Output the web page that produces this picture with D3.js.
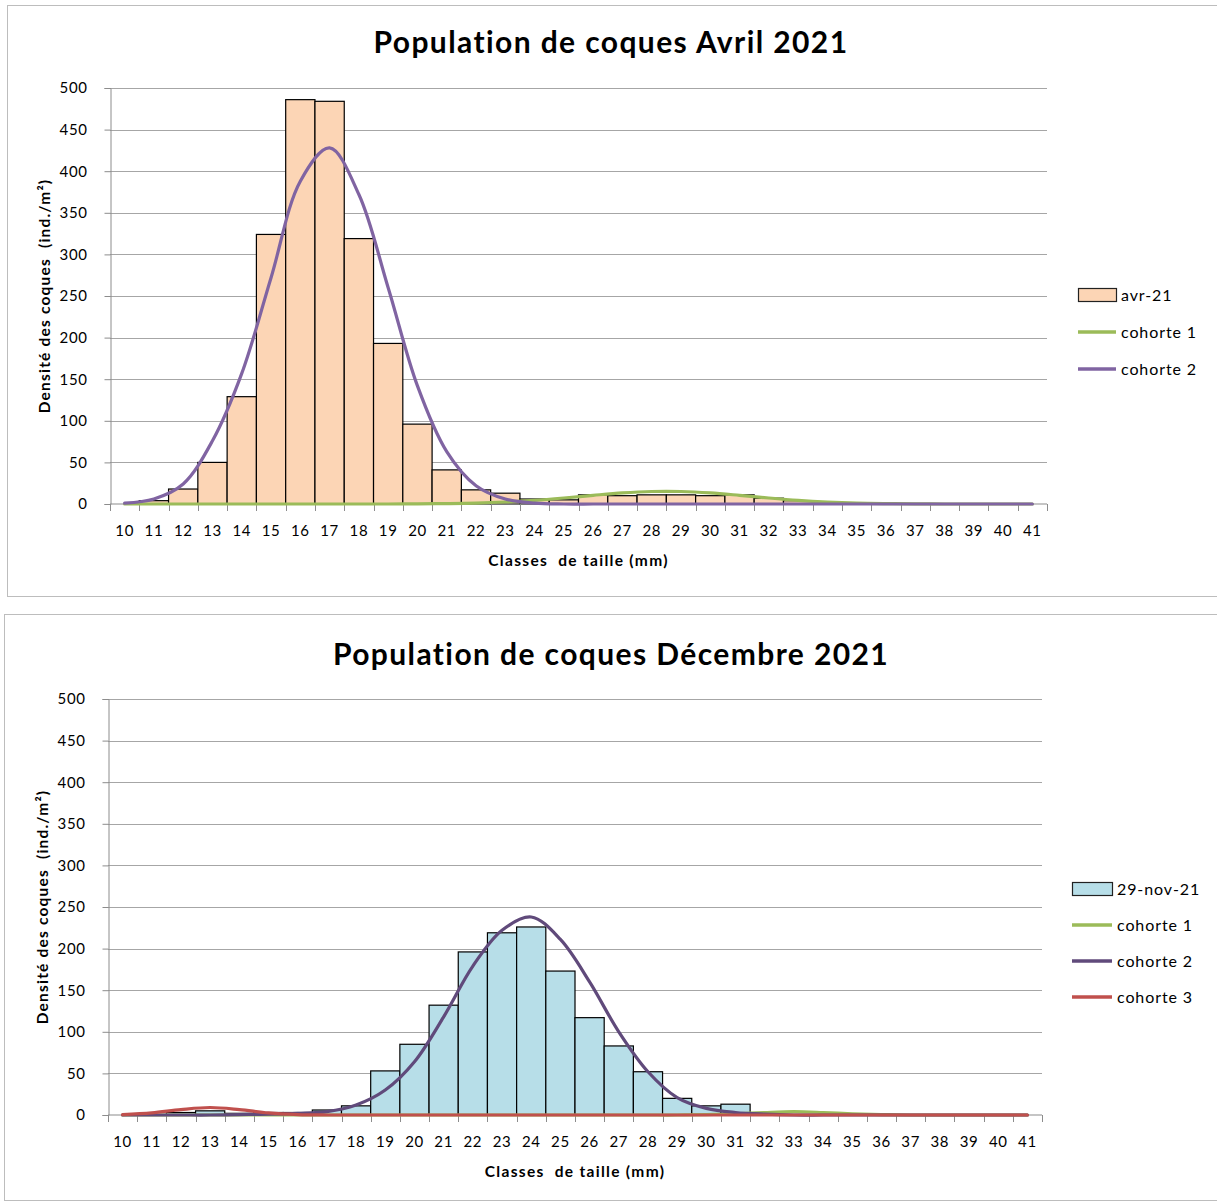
<!DOCTYPE html>
<html>
<head>
<meta charset="utf-8">
<script src="https://cdn.jsdelivr.net/npm/d3@7"></script>
<style>
  body { margin: 0; background: #fff; }
  text { font-family: Lato, "Open Sans", sans-serif; }
</style>
</head>
<body>
<div id="root"></div>
<script>
const WIDTH = 1217;
const HEIGHT = 1202;

// size classes (mm)
const classes = ["10","11","12","13","14","15","16","17","18","19","20","21","22","23","24","25",
                 "26","27","28","29","30","31","32","33","34","35","36","37","38","39","40","41"];
const yTicks = [0, 50, 100, 150, 200, 250, 300, 350, 400, 450, 500];

// April 2021
const avrBars = [0, 4, 18, 50, 129, 324, 486, 484, 319, 193, 96, 41, 17, 13, 6, 5,
                 11, 10, 11, 11, 10, 11, 7, 4, 2, 1, 0, 0, 0, 0, 0, 0];
const avrCoh1 = [0, 0, 0, 0, 0, 0, 0, 0, 0, 0, 0.2, 0.5, 1.1, 2.4, 4.4, 7.2,
                 10.4, 13.3, 15, 15, 13.3, 10.4, 7.2, 4.4, 2.4, 1.1, 0.5, 0.2, 0, 0, 0, 0];
const avrCoh2 = [1, 6, 24, 76, 157, 272, 388, 428, 372, 260, 142, 63, 22, 6, 1, 0,
                 0, 0, 0, 0, 0, 0, 0, 0, 0, 0, 0, 0, 0, 0, 0, 0];

// November / December 2021
const novBars = [0, 0, 3, 5, 2, 3, 3, 6, 11, 53, 85, 132, 196, 219, 226, 173,
                 117, 83, 52, 20, 11, 13, 0, 0, 0, 0, 0, 0, 0, 0, 0, 0];
const novCoh1 = [0, 0, 0, 0, 0, 0, 0, 0, 0, 0, 0, 0, 0, 0, 0, 0,
                 0, 0, 0, 0, 0.5, 1.5, 3, 4, 3, 1.5, 0.5, 0, 0, 0, 0, 0];
const novCoh2 = [0, 0, 0, 0, 0.5, 1, 2, 4, 12, 30, 64, 118, 179, 222, 238, 211,
                 160, 100, 52, 21, 8, 3, 1, 0, 0, 0, 0, 0, 0, 0, 0, 0];
const novCoh3 = [0.5, 2.5, 6.5, 9, 6.5, 2.5, 0.5, 0, 0, 0, 0, 0, 0, 0, 0, 0,
                 0, 0, 0, 0, 0, 0, 0, 0, 0, 0, 0, 0, 0, 0, 0, 0];

const svg = d3.select("#root")
    .append("svg")
    .attr("width", WIDTH)
    .attr("height", HEIGHT);

function drawChart(cfg) {
    const g = svg.append("g");

    // chart frame
    g.append("rect")
        .attr("x", cfg.frame[0] + 0.5)
        .attr("y", cfg.frame[1] + 0.5)
        .attr("width", cfg.frame[2])
        .attr("height", cfg.frame[3])
        .attr("fill", "#fff")
        .attr("stroke", "#bdbdbd");

    const x = d3.scaleBand()
        .domain(classes)
        .range([cfg.left, cfg.right])
        .paddingInner(0)
        .paddingOuter(0);

    const y = d3.scaleLinear()
        .domain([0, 500])
        .range([cfg.bottom, cfg.top]);

    // gridlines
    g.append("g")
        .selectAll("line")
        .data(yTicks.filter(d => d > 0))
        .join("line")
        .attr("x1", cfg.left)
        .attr("x2", cfg.right)
        .attr("y1", d => Math.round(y(d)) + 0.5)
        .attr("y2", d => Math.round(y(d)) + 0.5)
        .attr("stroke", "#a6a6a6")
        .attr("stroke-width", 1.2);

    // y axis
    const yAxis = d3.axisLeft(y)
        .tickValues(yTicks)
        .tickSize(6)
        .tickPadding(17);
    const ya = g.append("g")
        .attr("transform", `translate(${cfg.left + 0.5}, 0)`)
        .call(yAxis);
    ya.select(".domain").attr("stroke", "#8c8c8c");
    ya.selectAll(".tick line").attr("stroke", "#8c8c8c");
    ya.selectAll(".tick text")
        .attr("font-size", 15)
        .attr("fill", "#000")
        .attr("letter-spacing", 0.6)
        .style("font-family", "Lato, sans-serif");

    // bars
    g.append("g")
        .selectAll("rect")
        .data(cfg.bars)
        .join("rect")
        .attr("x", (d, i) => x(classes[i]))
        .attr("y", d => y(d))
        .attr("width", x.bandwidth())
        .attr("height", d => y(0) - y(d))
        .attr("fill", cfg.barFill)
        .attr("stroke", d => d > 0 ? "#000" : "none")
        .attr("stroke-width", 1.2);

    // x axis with ticks between categories
    const xa = g.append("g")
        .attr("transform", `translate(0, ${cfg.bottom})`);
    xa.append("line")
        .attr("x1", cfg.left)
        .attr("x2", cfg.right)
        .attr("stroke", "#8c8c8c")
        .attr("stroke-width", 1.2);
    xa.selectAll(".xtick")
        .data(classes.concat(["end"]))
        .join("line")
        .attr("class", "xtick")
        .attr("x1", (d, i) => Math.round(cfg.left + i * x.bandwidth()) + 0.5)
        .attr("x2", (d, i) => Math.round(cfg.left + i * x.bandwidth()) + 0.5)
        .attr("y1", 0)
        .attr("y2", 7)
        .attr("stroke", "#8c8c8c");
    xa.selectAll(".xlabel")
        .data(classes)
        .join("text")
        .attr("class", "xlabel")
        .attr("x", d => x(d) + x.bandwidth() / 2)
        .attr("y", 32)
        .attr("text-anchor", "middle")
        .attr("font-size", 15)
        .attr("letter-spacing", 0.6)
        .text(d => d);

    // smoothed cohort curves
    const line = d3.line()
        .x((d, i) => x(classes[i]) + x.bandwidth() / 2)
        .y(d => y(d))
        .curve(d3.curveCatmullRom.alpha(0.5));

    cfg.series.forEach(s => {
        g.append("path")
            .datum(s.values)
            .attr("d", line)
            .attr("fill", "none")
            .attr("stroke", s.color)
            .attr("stroke-width", 3.2)
            .attr("stroke-linecap", "round")
            .attr("stroke-linejoin", "round");
    });

    // titles
    g.append("text")
        .attr("x", cfg.titleX)
        .attr("y", cfg.titleY)
        .attr("text-anchor", "middle")
        .attr("font-size", 30)
        .attr("font-weight", "bold")
        .attr("letter-spacing", 1.4)
        .text(cfg.title);

    g.append("text")
        .attr("x", (cfg.left + cfg.right) / 2)
        .attr("y", cfg.bottom + 62)
        .attr("text-anchor", "middle")
        .attr("font-size", 15.5)
        .attr("font-weight", "bold")
        .attr("letter-spacing", 1.3)
        .attr("xml:space", "preserve")
        .text("Classes  de taille (mm)");

    g.append("text")
        .attr("transform", `translate(${cfg.yTitleX}, ${(cfg.top + cfg.bottom) / 2}) rotate(-90)`)
        .attr("text-anchor", "middle")
        .attr("font-size", 15.5)
        .attr("font-weight", "bold")
        .attr("letter-spacing", 1.2)
        .attr("xml:space", "preserve")
        .text("Densité des coques  (ind./m²)");

    // legend
    const lg = g.append("g")
        .attr("transform", `translate(${cfg.legendX}, ${cfg.legendY})`);
    lg.append("rect")
        .attr("x", 0.5)
        .attr("y", -6.5)
        .attr("width", cfg.swatch)
        .attr("height", 13)
        .attr("fill", cfg.barFill)
        .attr("stroke", "#222")
        .attr("stroke-width", 1.2);
    lg.append("text")
        .attr("x", cfg.swatch + 5)
        .attr("y", 5.5)
        .attr("font-size", 16)
        .attr("letter-spacing", 0.9)
        .text(cfg.barLabel);
    cfg.series.forEach((s, i) => {
        const yy = (i + 1) * cfg.legendStep;
        lg.append("line")
            .attr("x1", 0)
            .attr("x2", cfg.swatch)
            .attr("y1", yy)
            .attr("y2", yy)
            .attr("stroke", s.color)
            .attr("stroke-width", 3.5);
        lg.append("text")
            .attr("x", cfg.swatch + 5)
            .attr("y", yy + 5.5)
            .attr("font-size", 16)
            .attr("letter-spacing", 0.9)
            .text(s.label);
    });
}

drawChart({
    frame: [7, 5, 1215, 591],
    left: 110, right: 1047, top: 88, bottom: 504,
    title: "Population de coques Avril 2021",
    titleX: 611, titleY: 53,
    yTitleX: 50,
    bars: avrBars,
    barFill: "#fcd5b5",
    barLabel: "avr-21",
    series: [
        {label: "cohorte 1", values: avrCoh1, color: "#9bbb59"},
        {label: "cohorte 2", values: avrCoh2, color: "#8064a2"}
    ],
    legendX: 1078, legendY: 295, legendStep: 37, swatch: 38
});

drawChart({
    frame: [4, 614, 1220, 586],
    left: 108, right: 1042, top: 699, bottom: 1115,
    title: "Population de coques Décembre 2021",
    titleX: 611, titleY: 665,
    yTitleX: 48,
    bars: novBars,
    barFill: "#b7dee8",
    barLabel: "29-nov-21",
    series: [
        {label: "cohorte 1", values: novCoh1, color: "#9bbb59"},
        {label: "cohorte 2", values: novCoh2, color: "#604a7b"},
        {label: "cohorte 3", values: novCoh3, color: "#c0504d"}
    ],
    legendX: 1072, legendY: 889, legendStep: 36, swatch: 40
});
</script>
</body>
</html>
